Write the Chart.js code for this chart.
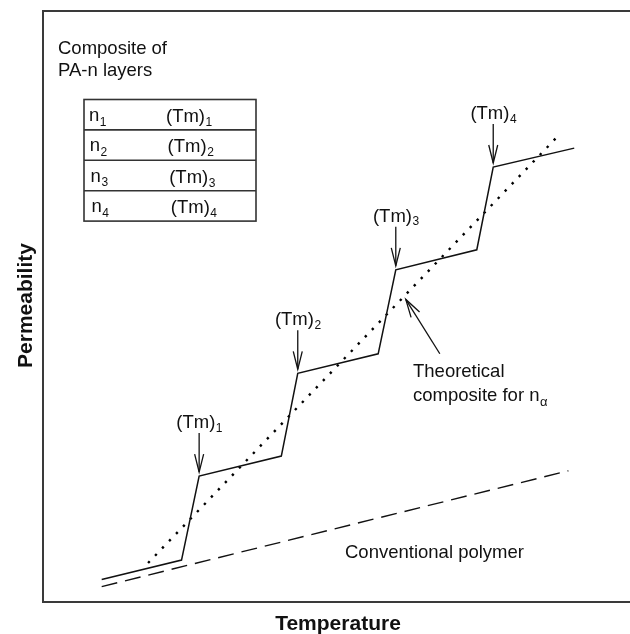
<!DOCTYPE html>
<html>
<head>
<meta charset="utf-8">
<script src="https://cdn.jsdelivr.net/npm/chart.js@4/dist/chart.umd.min.js"></script>
<style>
  html, body { margin: 0; padding: 0; background: #fff; }
  #wrap { width: 630px; height: 634px; }
</style>
</head>
<body>
<div id="wrap"><canvas id="chart"></canvas></div>
<script>
// Layered PA-n composite: permeability jumps at each layer's melting point (Tm)
const compositeT = [10.0, 23.6, 26.6, 40.6, 43.4, 57.1, 60.1, 73.9, 76.7, 90.5];
const compositeP = [3.8, 7.1, 21.3, 24.7, 38.7, 42.0, 56.2, 59.6, 73.6, 76.8];
// points of the composite curve where each layer melts
const meltIndex = [2, 4, 6, 8];
const meltSubs = ['1', '2', '3', '4'];

// Theoretical composite for n_alpha
const theoryT = [17.9, 87.4];
const theoryP = [6.6, 78.5];

// Conventional (single) polymer
const conventionalT = [10.0, 89.5];
const conventionalP = [2.6, 22.2];

// Pointer from the "Theoretical composite" note to its curve (tail, head)
const pointerT = [67.6, 61.8];
const pointerP = [42.0, 51.2];

// Layer table rows: n_i and (Tm)_i
const layerSubs = ['1', '2', '3', '4'];

const xTitle = 'Temperature';
const yTitle = 'Permeability';

const FONT = "'Liberation Sans', Arial, Helvetica, sans-serif";
const INK = '#111';

function pts(xs, ys) { return xs.map((x, i) => ({ x: x, y: ys[i] })); }

// text with a trailing subscript; align 'left' or 'center'
function subText(ctx, base, sub, x, y, align, subFont, subDy) {
  ctx.font = '18.5px ' + FONT;
  const w1 = ctx.measureText(base).width;
  ctx.font = (subFont || '12px ') + FONT;
  const w2 = ctx.measureText(sub).width;
  let x0 = align === 'center' ? x - (w1 + w2) / 2 : x;
  ctx.textAlign = 'left';
  ctx.textBaseline = 'alphabetic';
  ctx.font = '18.5px ' + FONT;
  ctx.fillText(base, x0, y);
  ctx.font = (subFont || '12px ') + FONT;
  ctx.fillText(sub, x0 + w1 + 0.5, y + (subDy == null ? 4 : subDy));
}

function arrowHead(ctx, tx, ty, fx, fy, len, half) {
  const dx = tx - fx, dy = ty - fy, L = Math.hypot(dx, dy);
  const ux = dx / L, uy = dy / L;
  const bx = tx - ux * len, by = ty - uy * len;
  ctx.beginPath();
  ctx.moveTo(bx - uy * half, by + ux * half);
  ctx.lineTo(tx, ty);
  ctx.lineTo(bx + uy * half, by - ux * half);
  ctx.stroke();
}

const annotations = {
  id: 'annotations',
  afterDatasetsDraw(chart) {
    const ctx = chart.ctx;
    const xs = chart.scales.x, ys = chart.scales.y;
    const area = chart.chartArea;
    ctx.save();

    // frame: left, top and bottom edges
    ctx.strokeStyle = '#3a3a3a';
    ctx.lineWidth = 2;
    ctx.beginPath();
    ctx.moveTo(chart.width, area.top);
    ctx.lineTo(area.left, area.top);
    ctx.lineTo(area.left, area.bottom);
    ctx.lineTo(chart.width, area.bottom);
    ctx.stroke();

    ctx.fillStyle = INK;
    ctx.strokeStyle = INK;

    // axis titles
    ctx.font = 'bold 21px ' + FONT;
    ctx.textAlign = 'center';
    ctx.textBaseline = 'alphabetic';
    ctx.fillText(xTitle, 338, 630);
    ctx.save();
    ctx.translate(31.5, 305.5);
    ctx.rotate(-Math.PI / 2);
    ctx.fillText(yTitle, 0, 0);
    ctx.restore();

    // melting point arrows and labels
    ctx.lineWidth = 1.3;
    meltIndex.forEach((idx, i) => {
      const px = xs.getPixelForValue(compositeT[idx]);
      const py = ys.getPixelForValue(compositeP[idx]);
      const tipY = py - 4, topY = tipY - 39;
      ctx.beginPath();
      ctx.moveTo(px, topY);
      ctx.lineTo(px, tipY);
      ctx.stroke();
      arrowHead(ctx, px, tipY, px, topY, 18, 4.5);
      subText(ctx, '(Tm)', meltSubs[i], px, topY - 5, 'center', '12px ', 3.5);
    });

    // pointer to the theoretical curve
    const tx0 = xs.getPixelForValue(pointerT[0]), ty0 = ys.getPixelForValue(pointerP[0]);
    const tx1 = xs.getPixelForValue(pointerT[1]), ty1 = ys.getPixelForValue(pointerP[1]);
    ctx.beginPath();
    ctx.moveTo(tx0, ty0);
    ctx.lineTo(tx1, ty1);
    ctx.stroke();
    arrowHead(ctx, tx1, ty1, tx0, ty0, 18, 5);

    ctx.font = '18.5px ' + FONT;
    ctx.textAlign = 'left';
    ctx.textBaseline = 'alphabetic';
    ctx.fillText('Theoretical', 413, 376.5);
    subText(ctx, 'composite for n', '\u03b1', 413, 400.5, 'left', '13px ', 5);

    ctx.font = '18.5px ' + FONT;
    ctx.fillText('Conventional polymer', 345, 558);

    // layer legend
    ctx.fillText('Composite of', 58, 54);
    ctx.fillText('PA-n layers', 58, 76);

    const tL = 84, tR = 256, tT = 99.5, rowH = 30.4;
    ctx.strokeStyle = '#333';
    ctx.lineWidth = 1.6;
    ctx.strokeRect(tL, tT, tR - tL, rowH * layerSubs.length);
    for (let r = 1; r < layerSubs.length; r++) {
      ctx.beginPath();
      ctx.moveTo(tL, tT + rowH * r);
      ctx.lineTo(tR, tT + rowH * r);
      ctx.stroke();
    }
    layerSubs.forEach((s, r) => {
      const by = tT + rowH * r + 21.5;
      subText(ctx, 'n', s, 89 + r * 0.8, by, 'left', '12px ', 4.5);
      subText(ctx, '(Tm)', s, 166 + r * 1.6, by + 1, 'left', '12px ', 4);
    });

    ctx.restore();
  }
};

new Chart(document.getElementById('chart'), {
  type: 'line',
  data: {
    datasets: [
      {
        label: 'Composite of PA-n layers',
        data: pts(compositeT, compositeP),
        borderColor: INK,
        borderWidth: 1.5,
        pointRadius: 0,
        tension: 0
      },
      {
        label: 'Theoretical composite',
        data: pts(theoryT, theoryP),
        borderColor: '#000',
        borderWidth: 2.4,
        borderDash: [2.4, 7.7],
        borderCapStyle: 'butt',
        pointRadius: 0,
        tension: 0
      },
      {
        label: 'Conventional polymer',
        data: pts(conventionalT, conventionalP),
        borderColor: INK,
        borderWidth: 1.4,
        borderDash: [16, 8],
        pointRadius: 0,
        tension: 0
      }
    ]
  },
  options: {
    responsive: true,
    maintainAspectRatio: false,
    animation: false,
    devicePixelRatio: 1,
    layout: { padding: { left: 43, right: 0, top: 11, bottom: 32 } },
    plugins: { legend: { display: false }, tooltip: { enabled: false } },
    scales: {
      x: { type: 'linear', min: 0, max: 100, display: false },
      y: { type: 'linear', min: 0, max: 100, display: false }
    }
  },
  plugins: [annotations]
});
</script>
</body>
</html>
